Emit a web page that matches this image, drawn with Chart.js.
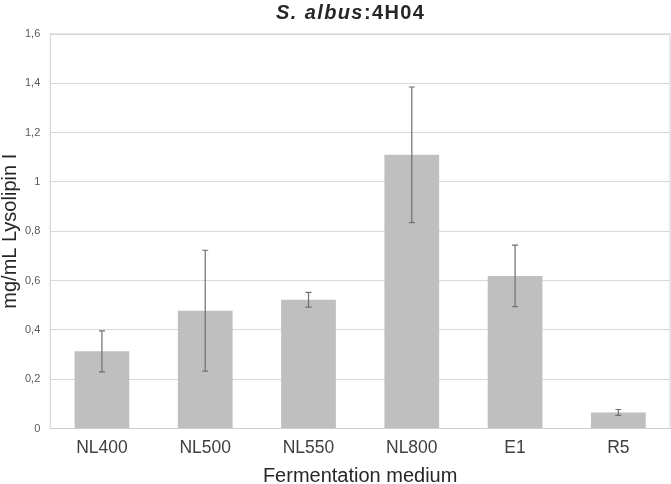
<!DOCTYPE html>
<html>
<head>
<meta charset="utf-8">
<script src="https://cdn.jsdelivr.net/npm/chart.js@4"></script>
<style>
    html, body { margin: 0; padding: 0; background: #fff; }
    #wrap { position: relative; width: 671px; height: 484px; }
    #title {
        position: absolute; left: 276px; top: 0px; white-space: nowrap;
        font: bold 20px "Liberation Sans", Arial, sans-serif; letter-spacing: 1.4px;
        line-height: 24px; color: #262626;
    }
</style>
</head>
<body>
<div id="wrap">
    <div id="title"><i>S. albus</i>:4H04</div>
    <canvas id="chart" width="671" height="484"></canvas>
</div>
<script>
// Datos del gráfico
const medios = ['NL400', 'NL500', 'NL550', 'NL800', 'E1', 'R5'];
const lysolipin = [0.313, 0.478, 0.522, 1.11, 0.619, 0.065];
const errores = [0.083, 0.245, 0.03, 0.275, 0.125, 0.012];
const yTicks = [0, 0.2, 0.4, 0.6, 0.8, 1, 1.2, 1.4, 1.6];

// Plugin para dibujar las barras de error
const errorBars = {
    id: 'errorBars',
    afterDatasetsDraw(chart) {
        const ctx = chart.ctx;
        const meta = chart.getDatasetMeta(0);
        const y = chart.scales.y;
        ctx.save();
        ctx.strokeStyle = '#6f6f6f';
        ctx.lineWidth = 1.2;
        meta.data.forEach((bar, i) => {
            const v = lysolipin[i], e = errores[i];
            const x = bar.x;
            const top = y.getPixelForValue(v + e);
            const bot = y.getPixelForValue(v - e);
            ctx.beginPath();
            ctx.moveTo(x, top); ctx.lineTo(x, bot);
            ctx.moveTo(x - 3, top); ctx.lineTo(x + 3, top);
            ctx.moveTo(x - 3, bot); ctx.lineTo(x + 3, bot);
            ctx.stroke();
        });
        ctx.restore();
    }
};

// Plugin para el marco del área de trazado
const plotBorder = {
    id: 'plotBorder',
    beforeDatasetsDraw(chart) {
        const { ctx, chartArea: a } = chart;
        ctx.save();
        ctx.strokeStyle = '#d0d0d0';
        ctx.lineWidth = 1;
        ctx.strokeRect(a.left, a.top, a.right - a.left, a.bottom - a.top);
        ctx.restore();
    }
};

new Chart(document.getElementById('chart'), {
    type: 'bar',
    data: {
        labels: medios,
        datasets: [{
            data: lysolipin,
            backgroundColor: '#bfbfbf',
            borderWidth: 0,
            categoryPercentage: 1,
            barPercentage: 0.53
        }]
    },
    options: {
        responsive: false,
        animation: false,
        layout: { padding: { top: 34, right: 1, left: 0, bottom: 0 } },
        plugins: {
            legend: { display: false },
            tooltip: { enabled: false }
        },
        scales: {
            y: {
                min: 0,
                max: 1.6,
                afterBuildTicks(axis) {
                    axis.ticks = yTicks.map(v => ({ value: v }));
                },
                grid: { color: '#d9d9d9', drawTicks: false },
                border: { display: false },
                ticks: {
                    color: '#595959',
                    padding: 10,
                    font: { family: 'Liberation Sans', size: 11 },
                    callback: v => String(v).replace('.', ',')
                },
                title: {
                    display: true,
                    text: 'mg/mL Lysolipin I',
                    color: '#262626',
                    padding: { top: 0, bottom: -5 },
                    font: { family: 'Liberation Sans', size: 20, lineHeight: 1 }
                }
            },
            x: {
                grid: { display: false, drawTicks: false },
                border: { color: '#d0d0d0' },
                ticks: {
                    color: '#404040',
                    padding: 11,
                    font: { family: 'Liberation Sans', size: 17.5, lineHeight: 1 }
                },
                title: {
                    display: true,
                    text: 'Fermentation medium',
                    color: '#262626',
                    padding: { top: -2, bottom: -2 },
                    font: { family: 'Liberation Sans', size: 20, lineHeight: 1 }
                }
            }
        }
    },
    plugins: [plotBorder, errorBars]
});
</script>
</body>
</html>
